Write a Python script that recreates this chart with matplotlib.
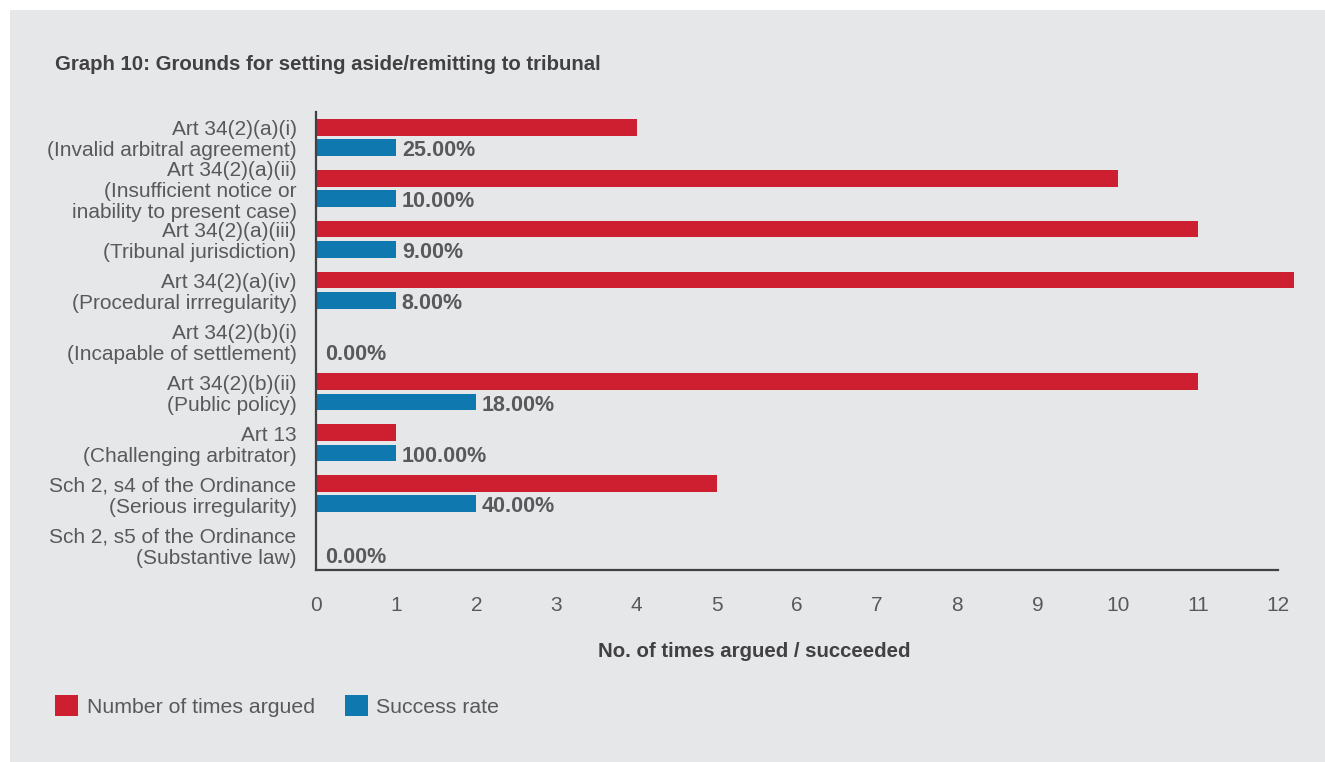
import matplotlib.pyplot as plt
from matplotlib.patches import Rectangle

plt.rcParams['font.family'] = ['Liberation Sans', 'DejaVu Sans']

categories = [
    "Art 34(2)(a)(i)\n(Invalid arbitral agreement)",
    "Art 34(2)(a)(ii)\n(Insufficient notice or\ninability to present case)",
    "Art 34(2)(a)(iii)\n(Tribunal jurisdiction)",
    "Art 34(2)(a)(iv)\n(Procedural irrregularity)",
    "Art 34(2)(b)(i)\n(Incapable of settlement)",
    "Art 34(2)(b)(ii)\n(Public policy)",
    "Art 13\n(Challenging arbitrator)",
    "Sch 2, s4 of the Ordinance\n(Serious irregularity)",
    "Sch 2, s5 of the Ordinance\n(Substantive law)",
]
times_argued = [4, 10, 11, 12.2, 0, 11, 1, 5, 0]
times_succeeded = [1, 1, 1, 1, 0, 2, 1, 2, 0]
success_labels = ["25.00%", "10.00%", "9.00%", "8.00%", "0.00%",
                  "18.00%", "100.00%", "40.00%", "0.00%"]
x_ticks = list(range(0, 13))

RED = '#cd1f30'
BLUE = '#0f78ae'
BG = '#e6e7e9'
TEXT = '#58595b'
DARK = '#414042'

fig = plt.figure(figsize=(13.25, 7.62), dpi=100)
fig.patch.set_facecolor('white')
# grey panel behind everything
fig.patches.append(Rectangle((10 / 1325, 0), 1, 1 - 10 / 762,
                             transform=fig.transFigure, facecolor=BG,
                             edgecolor='none', zorder=-10))

ax = fig.add_axes([316 / 1325, 1 - 570 / 762, 962 / 1325, 458 / 762])
ax.set_facecolor('none')

y = list(range(len(categories)))
h = 0.33
red_bars = ax.barh([v - 0.2 for v in y], times_argued, height=h, color=RED,
                   label='Number of times argued', clip_on=False)
blue_bars = ax.barh([v + 0.2 for v in y], times_succeeded, height=h, color=BLUE,
                    label='Success rate', clip_on=False)

for i, (val, lab) in enumerate(zip(times_succeeded, success_labels)):
    xpos = val + 0.07 if val > 0 else 0.12
    ax.text(xpos, i + 0.26, lab, ha='left', va='center', fontsize=15.5,
            fontweight='bold', color=TEXT)

ax.set_xlim(0, 12)
ax.set_ylim(len(categories) - 0.5, -0.5)
ax.set_xticks(x_ticks)
ax.set_yticks(y)
ax.set_yticklabels(categories, linespacing=1.13)
ax.tick_params(axis='x', length=0, pad=19, labelsize=15, labelcolor=TEXT)
ax.tick_params(axis='y', length=0, pad=14, labelsize=15, labelcolor=TEXT)
for lbl in ax.get_yticklabels():
    lbl.set_horizontalalignment('right')

for side in ['top', 'right']:
    ax.spines[side].set_visible(False)
for side in ['left', 'bottom']:
    ax.spines[side].set_color(DARK)
    ax.spines[side].set_linewidth(1.6)

ax.set_xlabel('No. of times argued / succeeded', fontsize=14.7,
              fontweight='bold', color=DARK)
ax.xaxis.set_label_coords(5.47 / 12, -72 / 458)

fig.text(55 / 1325, 1 - 64 / 762,
         'Graph 10: Grounds for setting aside/remitting to tribunal',
         fontsize=14.7, fontweight='bold', color=DARK, ha='left', va='center')

fig.legend(handles=[red_bars, blue_bars], loc='center left',
           bbox_to_anchor=(55 / 1325, 1 - 706 / 762), ncol=2, frameon=False,
           fontsize=15.3, labelcolor=TEXT, handlelength=1.1, handleheight=1.1,
           handletextpad=0.4, columnspacing=1.4, borderpad=0,
           borderaxespad=0)

plt.savefig('out.png', dpi=100, facecolor=fig.get_facecolor())
